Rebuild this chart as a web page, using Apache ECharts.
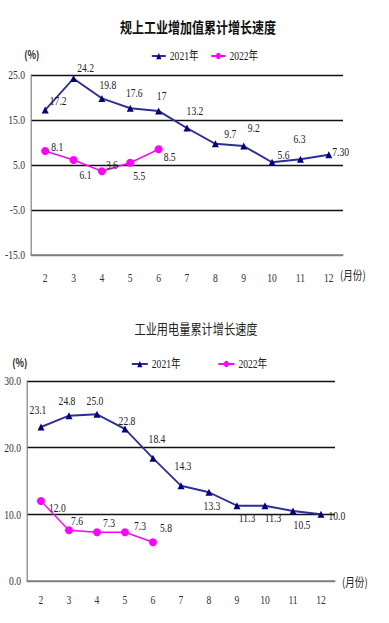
<!DOCTYPE html>
<html>
<head>
<meta charset="utf-8">
<script src="https://cdn.jsdelivr.net/npm/echarts@6/dist/echarts.min.js"></script>
<style>
html,body{margin:0;padding:0;background:#fff;overflow:hidden;width:389px;height:623px;}
#c{width:486px;height:623px;transform:scaleX(0.8);transform-origin:0 0;}
</style>
</head>
<body>
<div id="c"></div>
<script>
// ---- data ----
const months = ['2','3','4','5','6','7','8','9','10','11','12'];

const title1 = '规上工业增加值累计增长速度';
const ind2021 = [17.2, 24.2, 19.8, 17.6, 17, 13.2, 9.7, 9.2, 5.6, 6.3, 7.3];
const ind2021Text = ['17.2','24.2','19.8','17.6','17','13.2','9.7','9.2','5.6','6.3','7.30'];
const ind2022 = [8.1, 6.1, 3.6, 5.5, 8.5];
const ind2022Text = ['8.1','6.1','3.6','5.5','8.5'];
const indTicks = [-15, -5, 5, 15, 25];

const title2 = '工业用电量累计增长速度';
const ele2021 = [23.1, 24.8, 25.0, 22.8, 18.4, 14.3, 13.3, 11.3, 11.3, 10.5, 10.0];
const ele2021Text = ['23.1','24.8','25.0','22.8','18.4','14.3','13.3','11.3','11.3','10.5','10.0'];
const ele2022 = [12.0, 7.6, 7.3, 7.3, 5.8];
const ele2022Text = ['12.0','7.6','7.3','7.3','5.8'];
const eleTicks = [0, 10, 20, 30];

const seriesNames = ['2021年', '2022年'];

// ---- styling / layout ----
const S = 0.8;                 // horizontal compression of the container
const X = v => v / S;          // reference px -> css px (horizontal)
const NUM = "'Liberation Serif', 'Noto Sans CJK SC', serif";
const CJK = "'Noto Sans CJK SC', sans-serif";

const lay1a = [['top',13,5],['top',12,3],['top',6,1],['top',4,-1],['top',3,-1],['top',8,-3],['top',15,4],['top',10,-4],['right',-2,-8],['top',-1,-6],['right',-4,-3]];
const lay1b = [['right',-2,-4],['bottom',12,0],['right',-4,-7],['bottom',9,-2],['right',-3,7]];
const lay2a = [['top',-3,-3],['top',-2,-1],['top',-2,1],['top',2,6],['top',4,-5],['top',2,-6],['bottom',3,-1],['bottom',10,-3],['bottom',8,-3],['bottom',9,-1],['right',0,1]];
const lay2b = [['right',0,7],['top',8,5],['top',12,5],['top',15,8],['top',13,0]];

function items(vals, texts, lay) {
  return vals.map((v, i) => ({
    value: v,
    label: { position: lay[i][0], offset: [X(lay[i][1]), lay[i][2]], formatter: texts[i] }
  }));
}

const labelStyle = { show: true, fontFamily: NUM, fontSize: 12, color: '#222' };

function xAxis(gi, nameGap, vAlign, padTop, margin) {
  return {
    type: 'category', gridIndex: gi, data: months, boundaryGap: true,
    axisLine: { onZero: false, lineStyle: { color: '#808080', width: 1.5 } },
    axisTick: { inside: true, length: 6, lineStyle: { color: '#808080', width: 1 } },
    axisLabel: { margin: margin, color: '#333', fontFamily: NUM, fontSize: 12 },
    name: '(月份)', nameLocation: 'end', nameGap: nameGap,
    nameTextStyle: { fontFamily: CJK, fontSize: 12, color: '#222', align: 'left', verticalAlign: vAlign,
      padding: [padTop, 0, 0, 0] }
  };
}
function yAxis(gi, ticks, nameGap, shift) {
  const cols = ticks.map((t, i) => i === 0 ? '#808080' : '#111');
  return {
    type: 'value', gridIndex: gi, min: ticks[0], max: ticks[ticks.length - 1], interval: ticks[1] - ticks[0],
    axisLine: { show: true, lineStyle: { color: '#808080', width: 1.5 } },
    axisTick: { show: false },
    axisLabel: { margin: X(6), color: '#333', fontFamily: NUM, fontSize: 12, formatter: v => v.toFixed(1) },
    splitLine: { show: true, lineStyle: { color: cols, width: 1.3 } },
    name: '(%)', nameLocation: 'end', nameGap: nameGap,
    nameTextStyle: { fontFamily: CJK, fontSize: 11, fontWeight: 'bold', color: '#222', align: 'center',
      padding: shift < 0 ? [0, -2 * shift, 0, 0] : [0, 0, 0, 2 * shift] }
  };
}

const navyLine = { color: '#2e2e96', width: 2 };
const magLine = { color: '#ff00ff', width: 1.5 };

const option = {
  backgroundColor: '#fff',
  animation: false,
  title: [
    { text: title1, left: X(194), top: 14, textAlign: 'center',
      textStyle: { fontFamily: CJK, fontWeight: 'bold', fontSize: 15, color: '#111' } },
    { text: title2, left: X(192), top: 316, textAlign: 'center',
      textStyle: { fontFamily: CJK, fontWeight: 'normal', fontSize: 14, color: '#222' } }
  ],
  legend: [
    { data: seriesNames, left: X(147), top: 45, itemWidth: X(14), itemHeight: 8, itemGap: X(12),
      textStyle: { fontFamily: NUM, fontSize: 12, color: '#222' } },
    { data: seriesNames, left: X(127), top: 353, itemWidth: X(16), itemHeight: 8, itemGap: X(37),
      textStyle: { fontFamily: NUM, fontSize: 12, color: '#222' } }
  ],
  grid: [
    { left: X(31), right: 486 - X(343), top: 75, height: 180 },
    { left: X(27), right: 486 - X(335), top: 381, height: 200 }
  ],
  xAxis: [ xAxis(0, X(-3), 'top', 13, 17), xAxis(1, X(7), 'middle', 0, 13) ],
  yAxis: [ yAxis(0, indTicks, 15, 1), yAxis(1, eleTicks, 13, -9) ],
  series: [
    { type: 'line', name: seriesNames[0], xAxisIndex: 0, yAxisIndex: 0,
      data: items(ind2021, ind2021Text, lay1a),
      symbol: 'triangle', symbolSize: [X(7), 7], itemStyle: { color: '#000080' }, lineStyle: navyLine, label: labelStyle },
    { type: 'line', name: seriesNames[1], xAxisIndex: 0, yAxisIndex: 0,
      data: items(ind2022, ind2022Text, lay1b),
      symbol: 'circle', symbolSize: [X(8), 8], itemStyle: { color: '#ff00ff' }, lineStyle: magLine, label: labelStyle },
    { type: 'line', name: seriesNames[0], xAxisIndex: 1, yAxisIndex: 1,
      data: items(ele2021, ele2021Text, lay2a),
      symbol: 'triangle', symbolSize: [X(7), 7], itemStyle: { color: '#000080' }, lineStyle: navyLine, label: labelStyle },
    { type: 'line', name: seriesNames[1], xAxisIndex: 1, yAxisIndex: 1,
      data: items(ele2022, ele2022Text, lay2b),
      symbol: 'circle', symbolSize: [X(8), 8], itemStyle: { color: '#ff00ff' }, lineStyle: magLine, label: labelStyle }
  ]
};

const chart = echarts.init(document.getElementById('c'), null, { renderer: 'svg' });
chart.setOption(option);
</script>
</body>
</html>
